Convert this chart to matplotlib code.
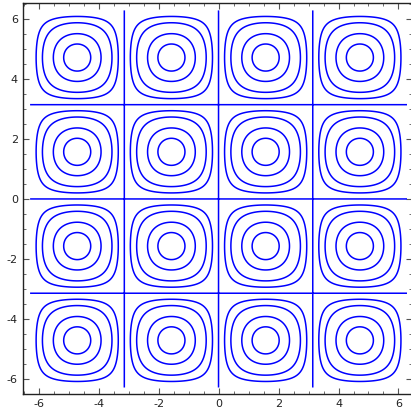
import numpy as np
import matplotlib
matplotlib.use("Agg")
import matplotlib.pyplot as plt
from matplotlib.ticker import MultipleLocator

# contour levels of f(x, y) = sin(x) * sin(y) on [-2pi, 2pi]^2
levels = [-0.9, -0.7, -0.4, -0.2, 0.0, 0.2, 0.4, 0.7, 0.9]
xmin, xmax = -2 * np.pi, 2 * np.pi
ymin, ymax = -2 * np.pi, 2 * np.pi
major_step = 2
minor_step = 0.5

plt.rcParams['axes.unicode_minus'] = False

x = np.linspace(xmin, xmax, 400)
y = np.linspace(ymin, ymax, 400)
X, Y = np.meshgrid(x, y)
Z = np.sin(X) * np.sin(Y)

fig = plt.figure(figsize=(4.11, 4.12), dpi=100)
# right edge of the frame sits just past the image border, as in the original
ax = fig.add_axes([0.0552, 0.0444, 0.9472, 0.9476])
ax.contour(X, Y, Z, levels=levels, colors='blue', linewidths=1.1,
           linestyles='solid')

ax.set_xlim(-6.53, 6.45)
ax.set_ylim(-6.49, 6.52)
ax.xaxis.set_major_locator(MultipleLocator(major_step))
ax.yaxis.set_major_locator(MultipleLocator(major_step))
ax.xaxis.set_minor_locator(MultipleLocator(minor_step))
ax.yaxis.set_minor_locator(MultipleLocator(minor_step))
ax.tick_params(which='both', direction='in', top=True, right=True, color='#555555')
ax.tick_params(which='major', length=4, width=0.8, labelsize=8, labelcolor='#222222')
ax.tick_params(which='minor', length=2, width=0.6)
for s in ax.spines.values():
    s.set_color('#222222')
    s.set_linewidth(1.0)

fig.savefig('out.png', dpi=100)
